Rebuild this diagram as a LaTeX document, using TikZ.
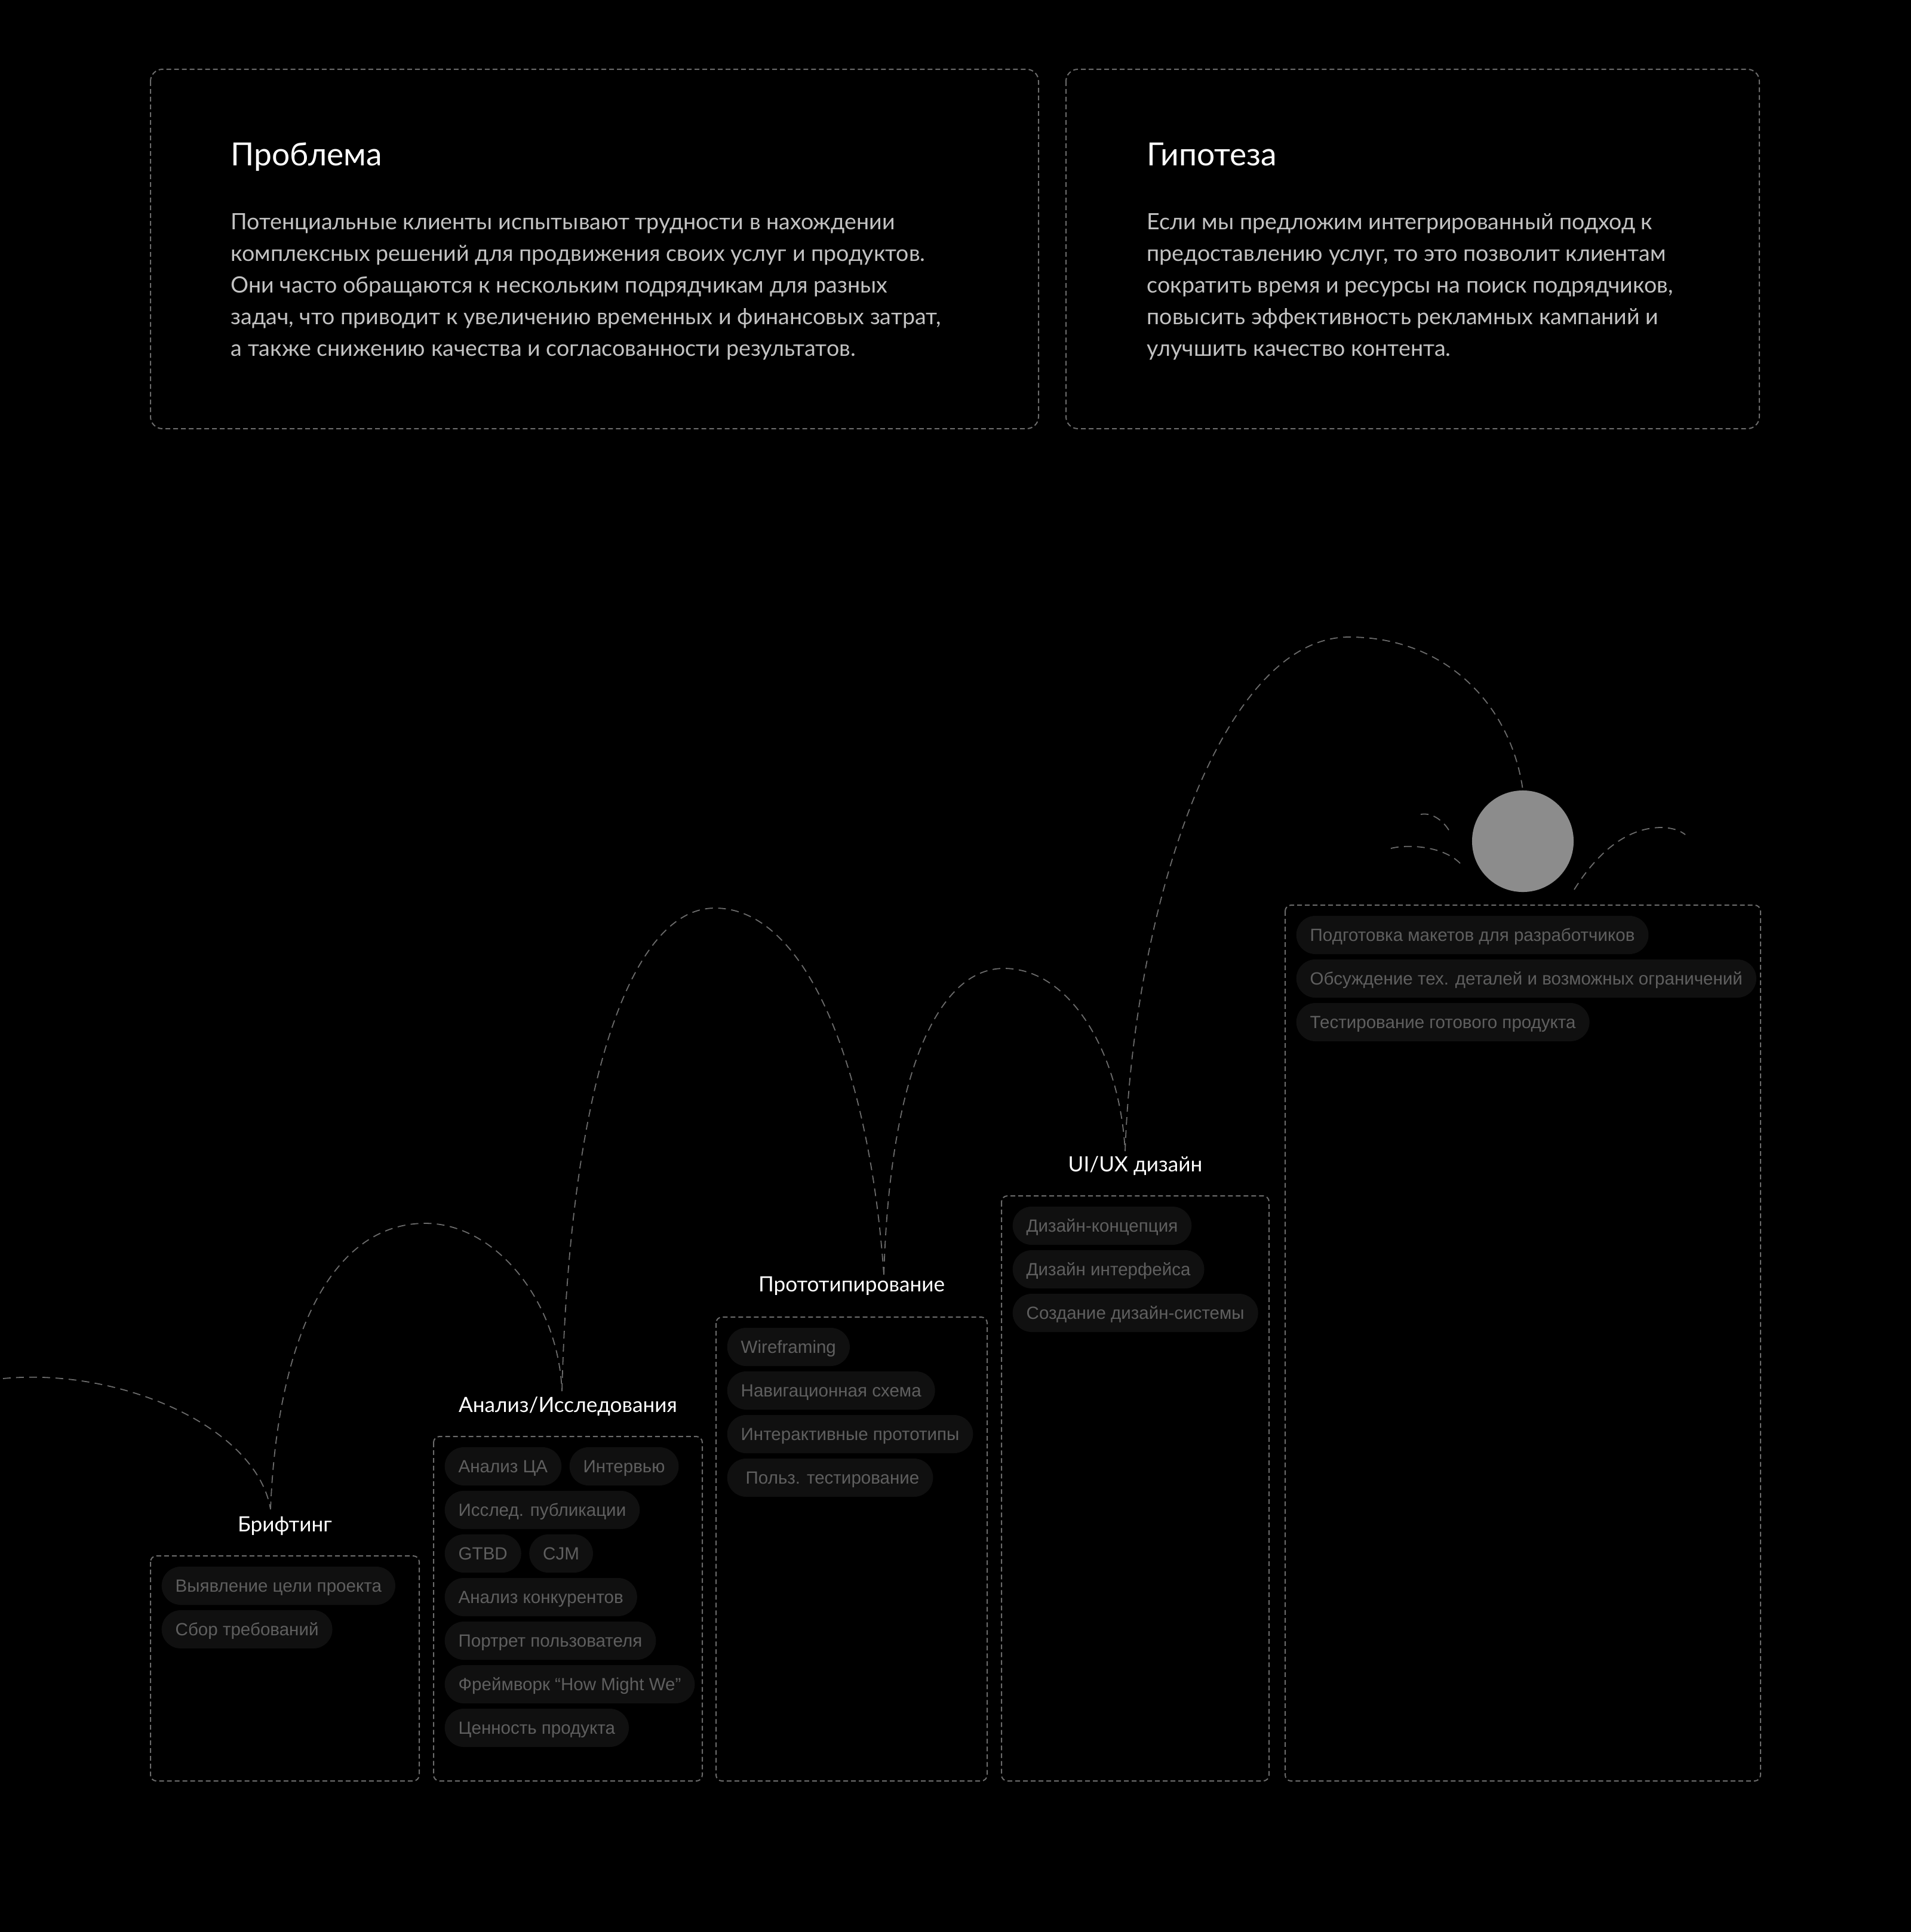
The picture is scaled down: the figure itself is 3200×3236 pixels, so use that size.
\documentclass[tikz,border=0pt]{standalone}
\usepackage{fontspec}
\usepackage{xcolor}
\usetikzlibrary{positioning}
\setmainfont{Lato}
\newfontfamily\chipfont{Liberation Sans}
\definecolor{dashgray}{HTML}{6B6B6B}
\definecolor{chipfill}{HTML}{101010}
\definecolor{chiptext}{HTML}{5F5F5F}
\definecolor{bodytext}{HTML}{C2C2C2}
\definecolor{ballgray}{HTML}{8C8C8C}

\begin{document}
\begin{tikzpicture}[x=0.01cm, y=-0.01cm,
  frame/.style={draw=dashgray, line width=0.02cm, dash pattern=on 0.08cm off 0.05cm, rounded corners=0.2cm},
  hop/.style={draw=dashgray, line width=0.018cm, dash pattern=on 0.13cm off 0.09cm},
  chip/.style={fill=chipfill, text=chiptext, rounded corners=0.32cm, minimum height=0.64cm, inner xsep=0.23cm, inner ysep=0pt, text height=6pt, text depth=0pt, font=\chipfont\fontsize{8.4}{10}\selectfont, anchor=west},
  stage/.style={text=white, anchor=base, inner sep=0pt, font=\fontsize{10}{12}\selectfont},
  heading/.style={text=white, anchor=base west, inner sep=0pt, font=\fontsize{15.2}{18}\selectfont},
  para/.style={text=bodytext, anchor=base west, inner sep=0pt, font=\fontsize{10.7}{15.1}\selectfont}]
\useasboundingbox (0,0) rectangle (3200,3236);
\fill[black] (0,0) rectangle (3200,3236);

% problem / hypothesis
\draw[frame] (252,116) rectangle (1739,718);
\draw[frame] (1785,116) rectangle (2946,718);
\node[heading] (probtitle) at (386,277) {Проблема};
\node[para] (probtext) at (386,384) {\begin{tabular}[t]{@{}l@{}}
Потенциальные клиенты испытывают трудности в нахождении\\
комплексных решений для продвижения своих услуг и продуктов.\\
Они часто обращаются к нескольким подрядчикам для разных\\
задач, что приводит к увеличению временных и финансовых затрат,\\
а также снижению качества и согласованности результатов.
\end{tabular}};
\node[heading] (hyptitle) at (1920,277) {Гипотеза};
\node[para] (hyptext) at (1920,384) {\begin{tabular}[t]{@{}l@{}}
Если мы предложим интегрированный подход к\\
предоставлению услуг, то это позволит клиентам\\
сократить время и ресурсы на поиск подрядчиков,\\
повысить эффективность рекламных кампаний и\\
улучшить качество контента.
\end{tabular}};

% stage frames
\draw[frame, rounded corners=0.1cm] (252,2606) rectangle (702,2983);
\draw[frame, rounded corners=0.1cm] (726,2406) rectangle (1176,2983);
\draw[frame, rounded corners=0.1cm] (1199,2206) rectangle (1653,2983);
\draw[frame, rounded corners=0.1cm] (1677,2003) rectangle (2125,2983);
\draw[frame, rounded corners=0.1cm] (2152,1516) rectangle (2948,2983);

\node[stage] (brief) at (477,2565) {Брифтинг};
\node[stage] (research) at (951,2365) {Анализ/Исследования};
\node[stage] (proto) at (1426,2163) {Прототипирование};
\node[stage] (uiux) at (1901,1962) {UI/UX дизайн};

\node[chip] (br1) at (270,2656) {Выявление цели проекта};
\node[chip] (br2) at (270,2729) {Сбор требований};

\node[chip] (an1) at (744,2456) {Анализ ЦА};
\node[chip, right=1.2mm of an1] (an2) {Интервью};
\node[chip] (an3) at (744,2529) {Исслед. публикации};
\node[chip] (an4) at (744,2602) {GTBD};
\node[chip, right=1.2mm of an4] (an5) {CJM};
\node[chip] (an6) at (744,2675) {Анализ конкурентов};
\node[chip] (an7) at (744,2748) {Портрет пользователя};
\node[chip] (an8) at (744,2821) {Фреймворк “How Might We”};
\node[chip] (an9) at (744,2894) {Ценность продукта};

\node[chip] (pr1) at (1217,2256) {Wireframing};
\node[chip] (pr2) at (1217,2329) {Навигационная схема};
\node[chip] (pr3) at (1217,2402) {Интерактивные прототипы};
\node[chip] (pr4) at (1217,2475) {\hspace{0.08cm}Польз. тестирование};

\node[chip] (ui1) at (1695,2053) {Дизайн-концепция};
\node[chip] (ui2) at (1695,2126) {Дизайн интерфейса};
\node[chip] (ui3) at (1695,2199) {Создание дизайн-системы};

\node[chip] (dv1) at (2170,1566) {Подготовка макетов для разработчиков};
\node[chip] (dv2) at (2170,1639) {Обсуждение тех. деталей и возможных ограничений};
\node[chip] (dv3) at (2170,1712) {Тестирование готового продукта};

% bouncing ball
\node[circle, fill=ballgray, minimum size=1.7cm, inner sep=0pt] (ball) at (2550,1409) {};
\coordinate (j0) at (5,2309);
\coordinate (j1) at (453,2528);
\coordinate (j2) at (941,2330);
\coordinate (j3) at (1480,2135);
\coordinate (j4) at (1884,1928);
\coordinate (p1) at (712,2049);
\coordinate (p2) at (1197,1521);
\coordinate (p3) at (1681,1622);
\coordinate (p4) at (2259,1067);
\draw[hop] (j0) .. controls (200,2290) and (430,2390) .. (j1);
\draw[hop] (j1) .. controls (465,2230) and (560,2049) .. (p1) .. controls (830,2049) and (935,2180) .. (j2);
\draw[hop] (j2) .. controls (955,1800) and (1060,1521) .. (p2) .. controls (1352,1521) and (1456,1793) .. (j3);
\draw[hop] (j3) .. controls (1490,1800) and (1570,1622) .. (p3) .. controls (1790,1622) and (1875,1760) .. (j4);
\draw[hop] (j4) .. controls (1900,1500) and (2050,1067) .. (p4) .. controls (2420,1067) and (2530,1180) .. (ball.north);
\draw[hop] (2379,1364) .. controls (2400,1360) and (2420,1378) .. (2428,1394);
\draw[hop] (2329,1421) .. controls (2360,1413) and (2425,1418) .. (2450,1452);
\draw[hop] (2636,1490) .. controls (2680,1420) and (2730,1386) .. (2782,1386) .. controls (2800,1386) and (2815,1392) .. (2822,1398);
\end{tikzpicture}
\end{document}
